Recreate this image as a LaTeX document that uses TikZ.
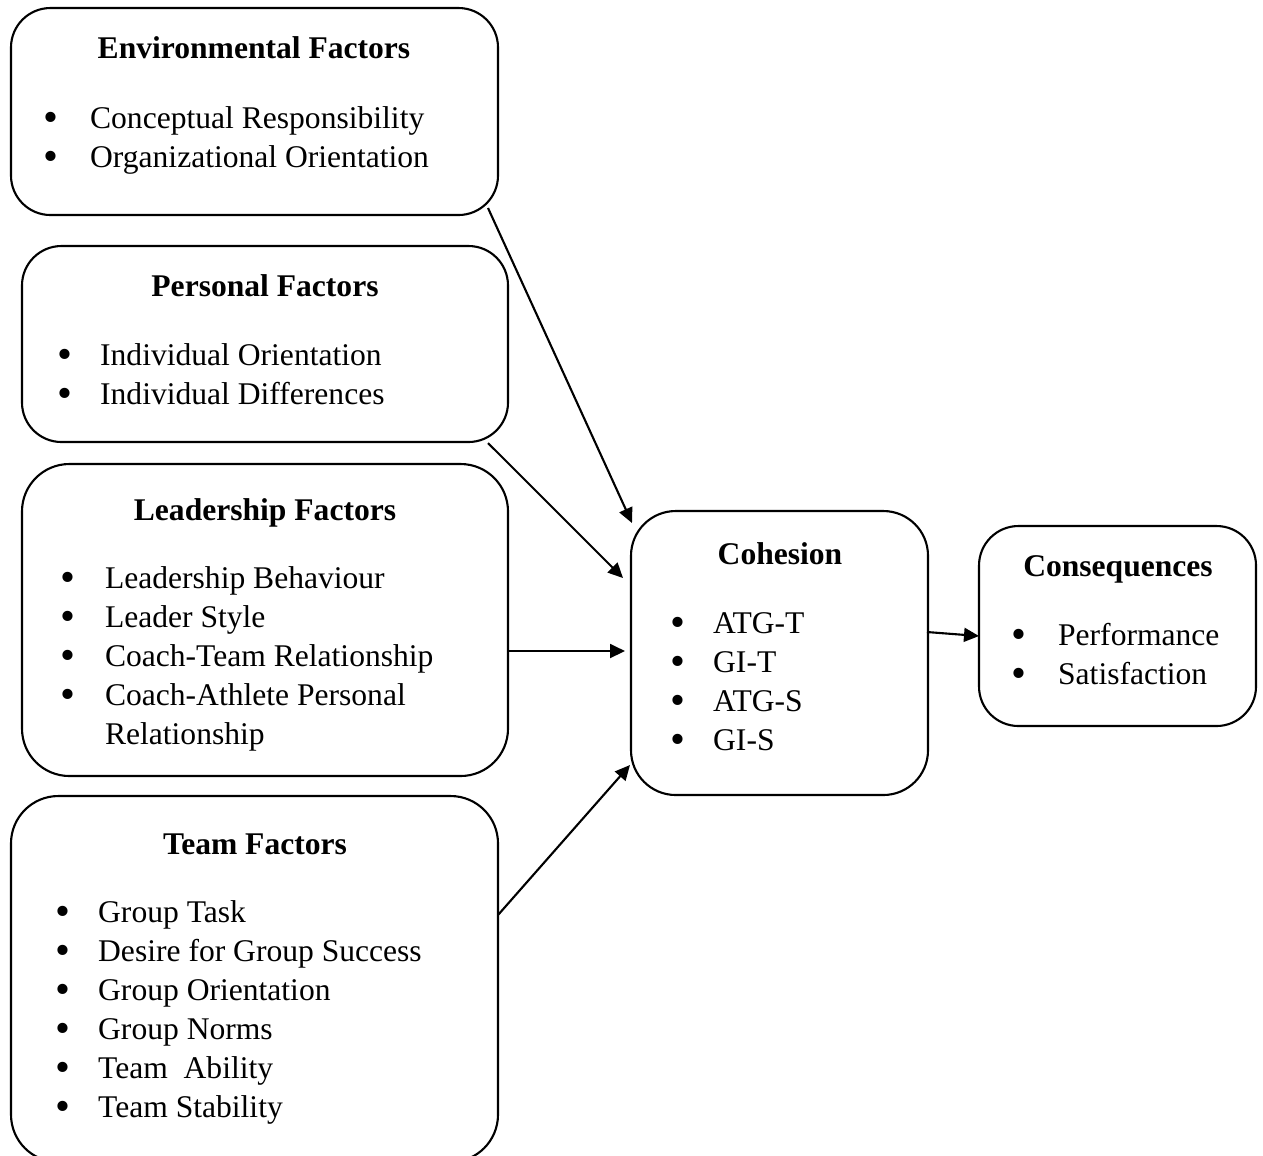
\documentclass[tikz,border=0pt]{standalone}
\usepackage{fontspec}
\setmainfont{Liberation Serif}
\usetikzlibrary{arrows.meta}
\newcommand{\bul}{\raisebox{-1.4pt}{\scalebox{1.35}{\textbullet}}}
\newcommand{\blist}[2]{\begin{tabular}[t]{@{}p{#1}@{}l@{}}#2\end{tabular}}

\begin{document}
\begin{tikzpicture}[x=0.38pt, y=-0.38pt, line width=0.8pt,
    factor/.style={draw, rounded corners=15pt, inner sep=0pt, outer sep=0pt},
    head/.style={anchor=base, font=\fontsize{12}{14.82}\selectfont\bfseries},
    items/.style={anchor=base west, inner sep=0pt, font=\fontsize{12}{14.82}\selectfont},
    link/.style={-{Triangle[length=5.7pt,width=5.3pt]}}]
    \useasboundingbox (0,0) rectangle (1263,1155);

    % the four groups of factors
    \node (env) [factor, minimum width=185.06pt, minimum height=78.66pt] at (254.5,111.5) {};
    \node (pers) [factor, minimum width=184.68pt, minimum height=74.48pt] at (265,344) {};
    \node (lead) [factor, rounded corners=18pt, minimum width=184.68pt, minimum height=118.56pt] at (265,620) {};
    \node (team) [factor, rounded corners=18pt, minimum width=185.06pt, minimum height=139.08pt] at (254.5,979) {};

    % cohesion and its consequences
    \node (coh) [factor, rounded corners=17pt, minimum width=112.86pt, minimum height=107.92pt] at (779.5,653) {};
    \node (cons) [factor, minimum width=105.26pt, minimum height=76pt] at (1117.5,626) {};

    \node (envhead) [head] at (254,58) {Environmental Factors};
    \node (envlist) [items] at (42.5,128) {\blist{17.7pt}{\bul & Conceptual Responsibility\\
        \bul & Organizational Orientation}};

    \node (pershead) [head] at (265,296) {Personal Factors};
    \node (perslist) [items] at (56.5,365) {\blist{16.2pt}{\bul & Individual Orientation\\
        \bul & Individual Differences}};

    \node (leadhead) [head] at (265,520) {Leadership Factors};
    \node (leadlist) [items] at (59.5,588) {\blist{16.9pt}{\bul & Leadership Behaviour\\
        \bul & Leader Style\\
        \bul & Coach-Team Relationship\\
        \bul & Coach-Athlete Personal\\
        & Relationship}};

    \node (teamhead) [head] at (255,854) {Team Factors};
    \node (teamlist) [items] at (54.5,922) {\blist{16.2pt}{\bul & Group Task\\
        \bul & Desire for Group Success\\
        \bul & Group Orientation\\
        \bul & Group Norms\\
        \bul & Team\ \ Ability\\
        \bul & Team Stability}};

    \node (cohhead) [head] at (780,564) {Cohesion};
    \node (cohlist) [items] at (669.5,633) {\blist{16.2pt}{\bul & ATG-T\\
        \bul & GI-T\\
        \bul & ATG-S\\
        \bul & GI-S}};

    \node (conshead) [head] at (1118,576) {Consequences};
    \node (conslist) [items] at (1010.5,645) {\blist{17.7pt}{\bul & Performance\\
        \bul & Satisfaction}};

    % links
    \draw[link] ([shift={(-10,-7)}]env.south east) -- ([shift={(1,12)}]coh.north west);
    \draw[link] ([shift={(-20,1)}]pers.south east) -- ([shift={(-8,-75)}]coh.west);
    \draw[link] ([shift={(0,31)}]lead.east) -- ([shift={(-6,-2)}]coh.west);
    \draw[link] ([shift={(0,-64)}]team.east) -- ([shift={(-1,-30)}]coh.south west);
    \draw[link] ([shift={(-1,-21)}]coh.east) -- ([shift={(0,10)}]cons.west);
\end{tikzpicture}
\end{document}
